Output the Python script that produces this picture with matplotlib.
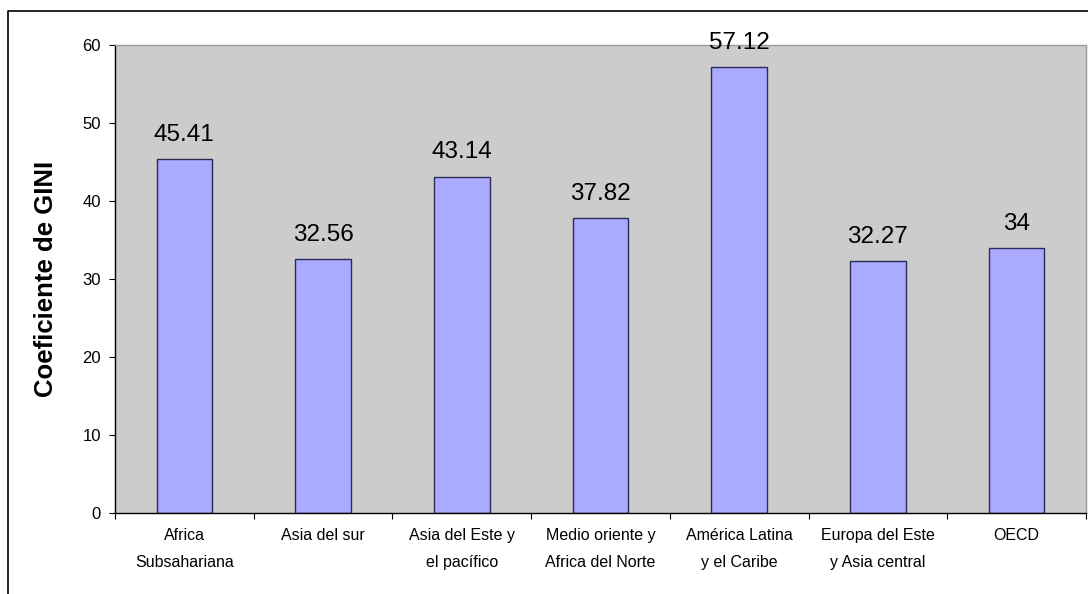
import matplotlib
matplotlib.use("Agg")
import matplotlib.pyplot as plt
from matplotlib.lines import Line2D
import numpy as np

plt.rcParams['font.family'] = ['Liberation Sans', 'DejaVu Sans']

regiones = ['Africa\nSubsahariana', 'Asia del sur', 'Asia del Este y\nel pacífico',
            'Medio oriente y\nAfrica del Norte', 'América Latina\ny el Caribe',
            'Europa del Este\ny Asia central', 'OECD']
gini = [45.41, 32.56, 43.14, 37.82, 57.12, 32.27, 34]
etiquetas = ['45.41', '32.56', '43.14', '37.82', '57.12', '32.27', '34']
yticks = [0, 10, 20, 30, 40, 50, 60]

fig = plt.figure(figsize=(10.88, 5.94), dpi=100)
ax = fig.add_axes([115 / 1088, 1 - 513 / 594, 971 / 1088, 468 / 594])
ax.set_facecolor('#cccccc')

x = np.arange(len(gini))
ax.bar(x, gini, width=0.4, color='#aaaaff', edgecolor='#2b2b55', linewidth=1.0, zorder=2)

for xi, v, txt in zip(x, gini, etiquetas):
    ax.annotate(txt, (xi, v), xytext=(0, 13), textcoords='offset points',
                ha='center', va='baseline', fontsize=17.5, color='black')

ax.set_xlim(-0.5, len(gini) - 0.5)
ax.set_ylim(0, 60)
ax.set_yticks(yticks)
ax.tick_params(axis='y', direction='out', length=4, width=0.8, labelsize=12, pad=6)

# ticks between categories, labels centred under each bar
ax.set_xticks(np.arange(-0.5, len(gini), 1.0))
ax.set_xticklabels([])
ax.set_xticks(x, minor=True)
ax.set_xticklabels(regiones, minor=True, fontsize=11.5, linespacing=2.0)
ax.tick_params(axis='x', which='major', direction='out', length=4, width=0.8)
ax.tick_params(axis='x', which='minor', length=0, pad=11)

for side in ['left', 'bottom']:
    ax.spines[side].set_color('black')
    ax.spines[side].set_linewidth(1.0)
for side in ['top', 'right']:
    ax.spines[side].set_color('#9a9a9a')
    ax.spines[side].set_linewidth(1.0)

ax.set_ylabel('Coeficiente de GINI', fontsize=18.5, fontweight='bold', va='center')
ax.yaxis.set_label_coords(-0.071, 0.5)

# frame around the chart
x0, y0 = 8 / 1088, 1 - 11 / 594
fig.add_artist(Line2D([x0, x0, 1.01], [-0.01, y0, y0], color='black', linewidth=1.2))

fig.savefig('out.png', dpi=100)
